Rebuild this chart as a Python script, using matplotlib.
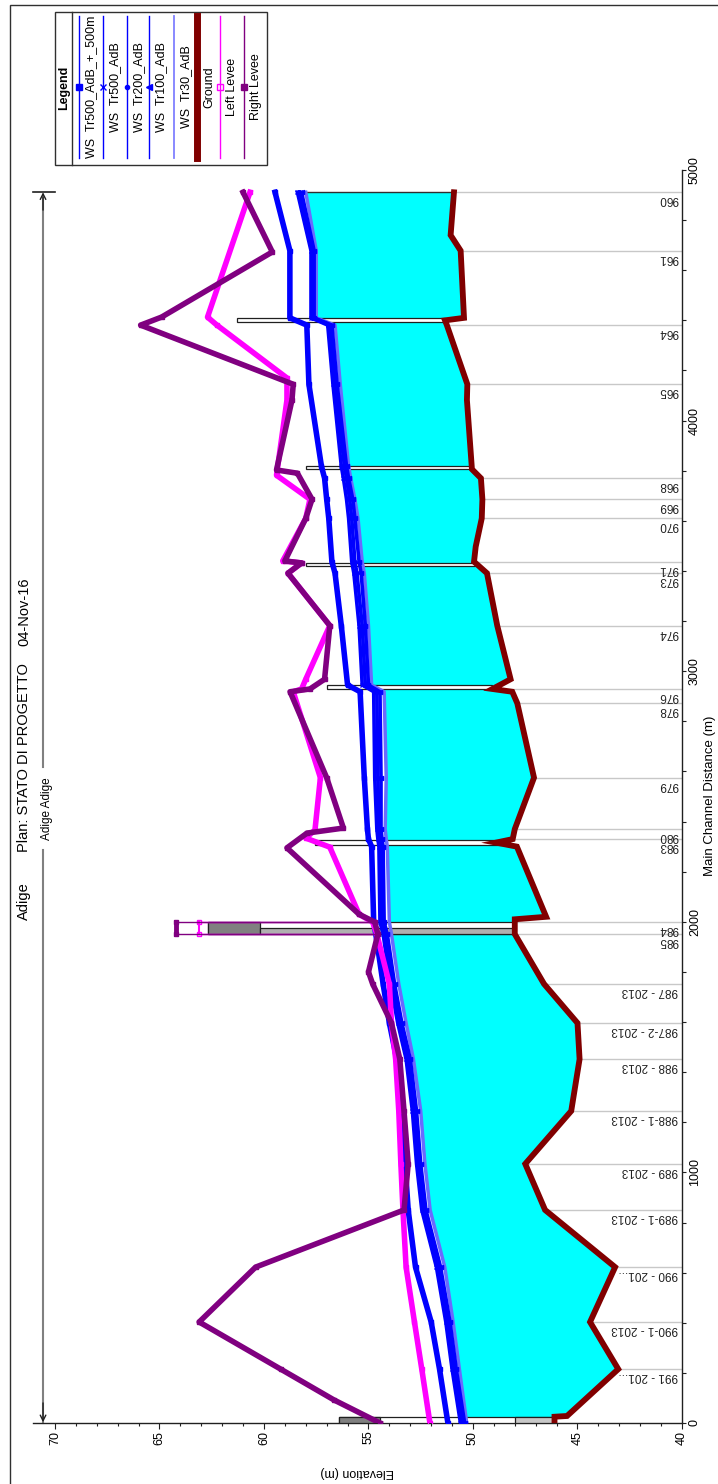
import numpy as np
import matplotlib
matplotlib.use("Agg")
import matplotlib.pyplot as plt
from matplotlib.patches import Rectangle, Polygon
from matplotlib.lines import Line2D
import matplotlib.transforms as mtransforms

plt.rcParams['font.family'] = ['Liberation Sans', 'DejaVu Sans']

# ---------------- data ----------------
# river stations (label, main channel distance m)
sec_labels = ["991 - 201...", "990-1 - 2013", "990 - 201...", "989-1 - 2013", "989 - 2013",
              "988-1 - 2013", "988 - 2013", "987-2 - 2013", "987 - 2013", "985", "984",
              "983", "980", "979", "978", "976", "974", "973", "971", "970", "969", "968",
              "965", "964", "961", "960"]
sec_dist = [215, 403, 622, 850, 1034, 1245, 1452, 1596, 1752, 1951, 1999,
            2330, 2370, 2575, 2872, 2928, 3182, 3391, 3437, 3610, 3686, 3770,
            4145, 4381, 4678, 4911]

# ground profile
g_dist = [0, 25, 28, 215, 403, 622, 850, 1034, 1245, 1452, 1596, 1752, 1951, 1999,
          2010, 2020, 2300, 2316, 2330, 2370, 2575, 2872, 2918, 2929, 2968, 3182,
          3391, 3437, 3497, 3610, 3686, 3770, 3806, 4082, 4145, 4381, 4400, 4410,
          4678, 4740, 4911]
g_elev = [46.1, 46.1, 45.5, 43.05, 44.4, 43.2, 46.55, 47.5, 45.3, 44.9, 45.0, 46.6, 48.0, 48.0,
          48.0, 46.5, 47.9, 48.9, 48.1, 48.0, 47.08, 47.88, 48.12, 49.07, 48.2, 48.84,
          49.33, 49.95, 49.87, 49.58, 49.55, 49.62, 50.05, 50.29, 50.27, 51.25, 51.34, 50.43,
          50.59, 51.07, 50.91]

# water surface profiles
ws_dist = [0, 215, 403, 622, 850, 1034, 1245, 1452, 1596, 1752, 1951, 1999, 2300, 2330,
           2370, 2575, 2918, 2945, 3182, 3391, 3437, 3610, 3686, 3770, 3818, 4145, 4381,
           4410, 4678, 4911]
ws_tr500_500 = [51.2, 51.6, 52.0, 52.75, 53.1, 53.25, 53.4, 53.65, 54.0, 54.3, 54.65, 54.75,
                54.85, 55.0, 55.05, 55.2, 55.4, 56.0, 56.3, 56.6, 56.75, 56.9, 57.0, 57.1,
                57.25, 57.85, 57.95, 58.76, 58.76, 59.47]
ws_tr500 = [50.6, 51.0, 51.3, 51.75, 52.45, 52.7, 52.9, 53.2, 53.6, 53.95, 54.3, 54.45, 54.5,
            54.55, 54.6, 54.7, 54.75, 55.3, 55.45, 55.7, 55.8, 55.95, 56.05, 56.2, 56.3, 56.7,
            56.95, 57.75, 57.75, 58.4]
ws_tr200 = [50.5, 50.9, 51.2, 51.65, 52.35, 52.6, 52.8, 53.1, 53.5, 53.85, 54.2, 54.35, 54.4,
            54.45, 54.5, 54.55, 54.6, 55.15, 55.3, 55.55, 55.65, 55.8, 55.9, 56.05, 56.15, 56.6,
            56.85, 57.68, 57.68, 58.3]
ws_tr100 = [50.4, 50.8, 51.1, 51.55, 52.25, 52.5, 52.7, 53.0, 53.4, 53.75, 54.1, 54.25, 54.3,
            54.35, 54.4, 54.4, 54.45, 55.0, 55.15, 55.35, 55.45, 55.65, 55.75, 55.95, 56.05, 56.5,
            56.75, 57.6, 57.6, 58.2]
ws_tr30 = [50.3, 50.65, 50.95, 51.35, 52.05, 52.3, 52.5, 52.85, 53.2, 53.55, 53.9, 54.0, 54.1,
           54.15, 54.2, 54.15, 54.25, 54.85, 55.0, 55.2, 55.3, 55.5, 55.65, 55.85, 55.95, 56.35,
           56.6, 57.5, 57.5, 58.0]

# levees
ll_dist = [0, 215, 403, 622, 850, 1034, 1245, 1452, 1596, 1752, 1951, 1999, 2030,
           2298, 2334, 2366, 2575, 2918, 2929, 2968, 3182, 3391, 3432, 3440, 3610, 3686, 3782,
           4082, 4170, 4381, 4413, 4911]
ll_elev = [52.06, 52.45, 52.8, 53.2, 53.35, 53.45, 53.55, 53.7, 53.9, 54.0, 54.6,
           54.8, 55.45, 56.85, 58.0, 57.56, 57.3, 58.6, 58.2, 58.0, 56.85, 58.85, 58.2, 59.1,
           58.0, 57.8, 59.4, 58.9, 58.9, 62.25, 62.7, 60.67]
rl_dist = [0, 92, 215, 403, 622, 850, 1034, 1245, 1452, 1596, 1752, 1800, 1951, 1999,
           2030, 2295, 2354, 2374, 2575, 2918, 2929, 2968, 3182, 3391, 3432, 3440, 3610, 3686,
           3790, 3803, 4082, 4145, 4381, 4413, 4673, 4911]
rl_elev = [54.45, 56.65, 59.2, 63.1, 60.4, 53.3, 53.1, 53.3, 53.5, 53.9, 54.8, 55.0, 54.55,
           54.7, 55.45, 58.9, 57.94, 56.2, 57.0, 58.75, 57.8, 57.1, 56.85, 58.85, 58.2,
           59.0, 58.0, 57.7, 58.4, 59.4, 58.66, 58.6, 65.9, 64.9, 59.6, 61.0]
# levee elevations across bridge 984 (faces at 1951 and 1999)
bridge_ll = 63.1
bridge_rl = 64.2

# structures (dist low, dist high, top elevation)
struct_lo = [0, 1951, 2307, 2929, 3420, 3806, 4395]
struct_hi = [24, 1999, 2326, 2945, 3432, 3818, 4411]
struct_top = [56.4, 62.7, 57.56, 57.0, 58.0, 58.0, 61.3]

elev_ticks = [40, 45, 50, 55, 60, 65, 70]
dist_ticks = [0, 1000, 2000, 3000, 4000, 5000]

legend_labels = ["WS  Tr500_AdB_+_500m", "WS  Tr500_AdB", "WS  Tr200_AdB", "WS  Tr100_AdB",
                 "WS  Tr30_AdB", "Ground", "Left Levee", "Right Levee"]

# ---------------- figure ----------------
W, H = 718, 1484
fig = plt.figure(figsize=(W / 100, H / 100), dpi=100)


def fx(px):
    return px / W


def fy(py):
    return 1 - py / H


ax = fig.add_axes([fx(33), fy(1423), fx(682) - fx(33), fy(170) - fy(1423)])
ax.set_xlim(71.05, 40)
ax.set_ylim(0, 5000)
for s in ['top', 'left']:
    ax.spines[s].set_visible(False)
for s in ['bottom', 'right']:
    ax.spines[s].set_color('#202020')
    ax.spines[s].set_linewidth(1.0)
ax.xaxis.set_ticks_position('bottom')
ax.yaxis.set_ticks_position('right')
ax.set_xticks(elev_ticks)
ax.set_xticks(np.arange(40, 71, 1), minor=True)
ax.set_xticklabels([str(t) for t in elev_ticks], rotation=90, va='top', ha='center')
ax.set_yticks(dist_ticks)
ax.set_yticks(np.arange(0, 5001, 200), minor=True)
ax.set_yticklabels([str(t) for t in dist_ticks], rotation=90, va='center', ha='left')
ax.tick_params(axis='x', which='major', length=4, width=0.8, pad=1.5, labelsize=9, color='#202020')
ax.tick_params(axis='x', which='minor', length=2.5, width=0.8, color='#202020')
ax.tick_params(axis='y', which='major', length=3, width=0.8, pad=2, labelsize=9, color='#202020')
ax.tick_params(axis='y', which='minor', length=3, width=0.8, color='#202020')

# section grid lines
for d in sec_dist:
    g = np.interp(d, g_dist, g_elev)
    ax.plot([g, 40], [d, d], color='#c8c8c8', lw=1.0, zorder=1)

lab_tr = mtransforms.offset_copy(ax.transData, fig=fig, x=-4, y=-1, units='dots')
for lab, d in zip(sec_labels, sec_dist):
    ax.text(40, d, lab, transform=lab_tr, rotation=180, ha='right', va='top',
            fontsize=8.5, color='#202020', zorder=2)

# water fill between lowest WS and ground
poly = list(zip(ws_tr30, ws_dist)) + list(zip(g_elev[::-1], g_dist[::-1]))
ax.add_patch(Polygon(poly, closed=True, facecolor='#00ffff', edgecolor='none', zorder=2))
ax.plot([ws_tr30[-1], g_elev[-1]], [ws_dist[-1], ws_dist[-1]], color='#303030', lw=1, zorder=3)

# structures
for lo, hi, top in zip(struct_lo, struct_hi, struct_top):
    gb = max(np.interp(lo, g_dist, g_elev), np.interp(hi, g_dist, g_elev))
    ax.add_patch(Rectangle((gb, lo), top - gb, hi - lo, facecolor='white',
                           edgecolor='#202020', lw=0.9, zorder=3))
# bridge 984 deck and lower strip
ax.add_patch(Rectangle((60.2, struct_lo[1]), struct_top[1] - 60.2, struct_hi[1] - struct_lo[1],
                       facecolor='#808080', edgecolor='#202020', lw=0.9, zorder=3))
ax.add_patch(Rectangle((48.0, struct_lo[1]), 60.2 - 48.0, (struct_hi[1] - struct_lo[1]) / 2,
                       facecolor='#b0b0b0', edgecolor='#202020', lw=0.9, zorder=3))
# structure at 0
ax.add_patch(Rectangle((54.45, struct_lo[0]), struct_top[0] - 54.45, struct_hi[0] - struct_lo[0],
                       facecolor='#808080', edgecolor='#202020', lw=0.9, zorder=3))
ax.add_patch(Rectangle((46.1, struct_lo[0]), 48.0 - 46.1, struct_hi[0] - struct_lo[0],
                       facecolor='#c8c8c8', edgecolor='#202020', lw=0.9, zorder=3))

# ground
ax.plot(g_elev, g_dist, color='#800000', lw=4.2, zorder=4, solid_joinstyle='miter')

# water surfaces
ax.plot(ws_tr30, ws_dist, color='#6a6aff', lw=2.5, zorder=5)
ax.plot(ws_tr100, ws_dist, color='#0000ff', lw=2.6, zorder=5, marker='<', ms=3)
ax.plot(ws_tr200, ws_dist, color='#0000ff', lw=2.6, zorder=5, marker='o', ms=2.5)
ax.plot(ws_tr500, ws_dist, color='#0000ff', lw=2.6, zorder=5, marker='x', ms=3)
ax.plot(ws_tr500_500, ws_dist, color='#0000ff', lw=4.0, zorder=5, marker='s', ms=3)

# levees
ax.plot(ll_elev, ll_dist, color='#ff00ff', lw=4.0, zorder=6, marker='s', ms=3.5,
        mfc='none', mec='#ff00ff')
ax.plot(rl_elev, rl_dist, color='#800080', lw=4.0, zorder=7, marker='s', ms=3.5)

# levees across bridge 984: thin lines along the faces, heavy edge at the top
for d in (1951, 1999):
    le = np.interp(d, ll_dist, ll_elev)
    re = np.interp(d, rl_dist, rl_elev)
    ax.plot([le, bridge_ll], [d, d], color='#ff00ff', lw=1.0, zorder=6, marker='s', ms=3.5,
            mfc='none', markevery=[1])
    ax.plot([re, bridge_rl], [d, d], color='#800080', lw=1.0, zorder=7, marker='s', ms=3.5,
            markevery=[1])
ax.plot([bridge_ll, bridge_ll], [1951, 1999], color='#ff00ff', lw=1.5, zorder=6)
ax.plot([bridge_rl, bridge_rl], [1951, 1999], color='#800080', lw=3.5, zorder=7)

# reach indicator
rx = 70.57
ax.plot([rx, rx], [0, 2287], color='#808080', lw=1.5, clip_on=False, zorder=2)
ax.plot([rx, rx], [2618, 4890], color='#808080', lw=1.5, clip_on=False, zorder=2)
ax.plot([71.05, 70.0], [4911, 4911], color='#202020', lw=1.2, clip_on=False)
ax.annotate('', xy=(rx, 4911), xytext=(rx, 4840),
            arrowprops=dict(arrowstyle='->', color='#202020', lw=1.0, shrinkA=0, shrinkB=0))
ax.annotate('', xy=(rx, 3), xytext=(rx, 80),
            arrowprops=dict(arrowstyle='->', color='#202020', lw=1.0, shrinkA=0, shrinkB=0))
fig.text(fx(47), fy(809), 'Adige Adige', rotation=90, ha='center', va='center', fontsize=8.5)

# axis labels
fig.text(fx(357), fy(1472), 'Elevation (m)', rotation=180, ha='center', va='center', fontsize=9)
fig.text(fx(710), fy(796), 'Main Channel Distance (m)', rotation=90, ha='center', va='center',
         fontsize=9.5)

# title
fig.text(fx(24), fy(901), 'Adige', rotation=90, ha='center', va='center', fontsize=10.5)
fig.text(fx(24), fy(758), 'Plan: STATO DI PROGETTO', rotation=90, ha='center', va='center',
         fontsize=10.5)
fig.text(fx(24), fy(612), '04-Nov-16', rotation=90, ha='center', va='center', fontsize=10.5)

# outer frame
fig.add_artist(Rectangle((fx(10), fy(1495)), fx(730) - fx(10), fy(5) - fy(1495), fill=False,
                         transform=fig.transFigure, ec='#303030', lw=1.0))

# legend
fig.add_artist(Rectangle((fx(55), fy(165)), fx(267) - fx(55), fy(12) - fy(165), fill=True,
                         facecolor='white', transform=fig.transFigure, ec='#303030', lw=1.0))
fig.add_artist(Line2D([fx(72), fx(72)], [fy(12), fy(165)], transform=fig.transFigure,
                      color='#303030', lw=1.0))
fig.text(fx(64), fy(88), 'Legend', rotation=90, ha='center', va='center', fontsize=9,
         fontweight='bold')
leg_x = [79, 103, 127, 149, 174, 197, 220, 244]
leg_style = [dict(color='#0000ff', lw=1, marker='s', ms=4),
             dict(color='#0000ff', lw=1, marker='x', ms=4),
             dict(color='#0000ff', lw=1, marker='o', ms=3),
             dict(color='#0000ff', lw=1, marker='<', ms=4),
             dict(color='#8080ff', lw=1.3),
             dict(color='#800000', lw=5),
             dict(color='#ff00ff', lw=1, marker='s', ms=4, mfc='none'),
             dict(color='#800080', lw=1, marker='s', ms=4)]
for lx, lab, st in zip(leg_x, legend_labels, leg_style):
    st = dict(st)
    mk = st.pop('marker', None)
    ms = st.pop('ms', None)
    mfc = st.pop('mfc', None)
    fig.add_artist(Line2D([fx(lx), fx(lx)], [fy(16), fy(158)], transform=fig.transFigure, **st))
    if mk:
        kw = dict(marker=mk, ms=ms, color=st['color'], lw=0)
        if mfc:
            kw['mfc'] = mfc
        fig.add_artist(Line2D([fx(lx)], [fy(87)], transform=fig.transFigure, **kw))
    fig.text(fx(lx + 12), fy(87), lab, rotation=90, ha='center', va='center', fontsize=9)

fig.savefig('out.png', dpi=100)
